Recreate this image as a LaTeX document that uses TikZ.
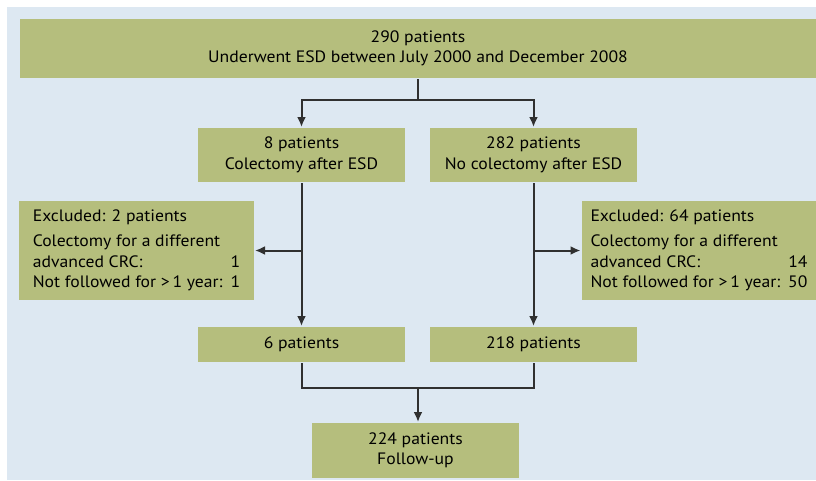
\documentclass[tikz,border=0pt]{standalone}
\usepackage{fontspec}
\setmainfont{PT Sans}[FakeStretch=1.07]
\usepackage{xcolor}
\usepackage{tikz}
\usetikzlibrary{arrows.meta,positioning,calc}
\definecolor{flow@green}{RGB}{181,190,125}
\definecolor{flow@blue}{RGB}{221,232,242}
\definecolor{flow@line}{RGB}{48,48,48}
\tikzset{
  flow/.style={
    >={Latex[length=10pt,width=9pt]},
    line width=2pt,
    every node/.style={font=\fontsize{16.5}{20.5}\selectfont}
  },
  pbox/.style={                    % patient count box
    fill=flow@green, draw=none,
    align=center,
    inner sep=2pt,
    minimum width=207pt,
    minimum height=54pt
  },
  xbox/.style={                    % exclusion box
    fill=flow@green, draw=none,
    inner sep=4pt,
    minimum width=235pt,
    minimum height=99pt
  },
  flowline/.style={-, draw=flow@line},
  flowarrow/.style={->, draw=flow@line}
}
\newcommand{\exclist}[3]{%
  \begin{tabular}{@{}l@{\hspace{8pt}}r@{}}
  \multicolumn{2}{@{}l@{}}{Excluded: #1 patients}\\[5pt]
  \multicolumn{2}{@{}l@{}}{Colectomy for a different}\\
  advanced CRC: & #2\\
  Not followed for >\,1 year: & #3
  \end{tabular}}
\begin{document}
\begin{tikzpicture}[flow, x=1pt, y=-1pt]
% page and background
\fill[white] (0,0) rectangle (816,480);
\useasboundingbox (0,0) rectangle (816,480);
\fill[flow@blue] (7,7) rectangle (816,480);

% Top box
\node[pbox, minimum width=796pt, minimum height=59pt] (esd) at (418,48.5)
  {290 patients\\Underwent ESD between July 2000 and December 2008};

% Second row
\node[pbox] (colect) at (301.5,155) {8 patients\\Colectomy after ESD};
\node[pbox] (nocolect) at (533.5,155) {282 patients\\No colectomy after ESD};

% Exclusions
\node[xbox] (exclL) at (136.5,250.5) {\exclist{2}{1}{1}};
\node[xbox] (exclR) at (699,250.5) {\exclist{64}{14}{50}};

% Third row
\node[pbox, minimum height=35pt] (six) at (301.5,344.5) {6 patients};
\node[pbox, minimum height=35pt] (remain) at (533.5,344.5) {218 patients};

% Follow-up
\node[pbox, minimum height=55pt] (follow) at (415.5,450.5) {224 patients\\Follow-up};

% Split
\draw[flowline] (esd.south) -- ++(0,21) coordinate (split);
\draw[flowarrow] (split) -| (colect.north);
\draw[flowarrow] (split) -| (nocolect.north);

% Down the branches
\draw[flowarrow] (colect.south) -- (six.north);
\draw[flowarrow] (nocolect.south) -- (remain.north);
\draw[flowarrow] (colect.south |- exclL.east) -- (exclL.east);
\draw[flowarrow] (nocolect.south |- exclR.west) -- (exclR.west);

% Merge
\draw[flowline] (six.south) -- ++(0,25) coordinate (merge) -| (remain.south);
\draw[flowarrow] (merge -| esd.south) -- (follow.north -| esd.south);
\end{tikzpicture}
\end{document}
